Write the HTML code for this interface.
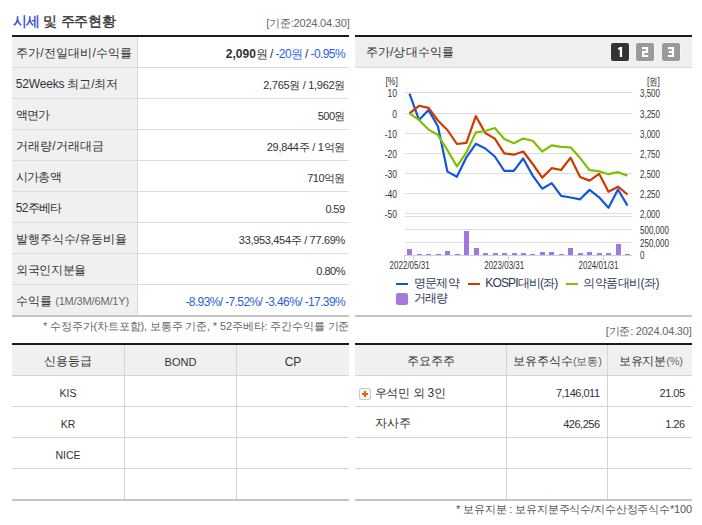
<!DOCTYPE html>
<html><head><meta charset="utf-8">
<style>
*{margin:0;padding:0;box-sizing:border-box}
html,body{width:702px;height:525px;overflow:hidden;background:#fff}
body{position:relative;font-family:"Liberation Sans",sans-serif;color:#333}
.t{position:absolute;white-space:nowrap;line-height:20px}
.r{position:absolute}
.chart{position:absolute;left:0;top:0}
.btn{position:absolute;top:43px;width:18px;height:18px;border-radius:2px;color:#fff;font-weight:bold;font-size:12px;line-height:18px;text-align:center}
.plus{position:absolute;width:12px;height:12px;border:1px solid #c8c8c8;border-radius:2px;background:#f6f6f6}
.plus:before{content:"";position:absolute;left:2px;top:4px;width:6px;height:2px;background:#f25c05}
.plus:after{content:"";position:absolute;left:4px;top:2px;width:2px;height:6px;background:#f25c05}
</style></head><body>
<div class="t" id="title" style="top:11.0px;font-size:14px;color:#333;letter-spacing:-0.3px;left:12.5px;-webkit-text-stroke:0.35px;"><span style="color:#3343d2">시세</span> 및 주주현황</div>
<div class="t" id="date1" style="top:13.0px;font-size:11px;color:#666;letter-spacing:-0.2px;right:352.5px;">[기준:2024.04.30]</div>
<div class="r" style="left:12px;top:35px;width:337px;height:2px;background:#1b1b1b"></div>
<div class="r" style="left:12px;top:37px;width:125px;height:278px;background:#f0f0f0"></div>
<div class="r" style="left:137px;top:37px;width:1px;height:278px;background:#dcdcdc"></div>
<div class="r" style="left:12px;top:67px;width:337px;height:1px;background:#dcdcdc"></div>
<div class="r" style="left:12px;top:98px;width:337px;height:1px;background:#dcdcdc"></div>
<div class="r" style="left:12px;top:129px;width:337px;height:1px;background:#dcdcdc"></div>
<div class="r" style="left:12px;top:160px;width:337px;height:1px;background:#dcdcdc"></div>
<div class="r" style="left:12px;top:191px;width:337px;height:1px;background:#dcdcdc"></div>
<div class="r" style="left:12px;top:222px;width:337px;height:1px;background:#dcdcdc"></div>
<div class="r" style="left:12px;top:253px;width:337px;height:1px;background:#dcdcdc"></div>
<div class="r" style="left:12px;top:284px;width:337px;height:1px;background:#dcdcdc"></div>
<div class="r" style="left:12px;top:315px;width:337px;height:2px;background:#c4c4c4"></div>
<div class="t" id="L0" style="top:42.9px;font-size:12px;color:#333;letter-spacing:0.2px;left:15.8px;">주가/전일대비/수익률</div>
<div class="t" id="V0" style="top:43.6px;font-size:12px;color:#333;letter-spacing:-0.6px;right:357.0px;"><b style="letter-spacing:0">2,090</b>원 / <span style="color:#1f5fe0">-20원</span> / <span style="color:#1f5fe0">-0.95%</span></div>
<div class="t" id="L1" style="top:73.8px;font-size:12px;color:#333;letter-spacing:-0.18px;left:15.8px;">52Weeks 최고/최저</div>
<div class="t" id="V1" style="top:74.6px;font-size:11px;color:#333;letter-spacing:-0.3px;right:357.0px;">2,765원 / 1,962원</div>
<div class="t" id="L2" style="top:104.8px;font-size:12px;color:#333;letter-spacing:-0.7px;left:15.8px;">액면가</div>
<div class="t" id="V2" style="top:105.6px;font-size:11px;color:#333;letter-spacing:-0.5px;right:357.0px;">500원</div>
<div class="t" id="L3" style="top:135.8px;font-size:12px;color:#333;letter-spacing:0.16px;left:15.8px;">거래량/거래대금</div>
<div class="t" id="V3" style="top:136.6px;font-size:11px;color:#333;letter-spacing:-0.28px;right:357.0px;">29,844주 / 1억원</div>
<div class="t" id="L4" style="top:166.8px;font-size:12px;color:#333;letter-spacing:-0.67px;left:15.8px;">시가총액</div>
<div class="t" id="V4" style="top:167.6px;font-size:11px;color:#333;letter-spacing:-0.5px;right:357.0px;">710억원</div>
<div class="t" id="L5" style="top:197.8px;font-size:12px;color:#333;letter-spacing:-0.67px;left:15.8px;">52주베타</div>
<div class="t" id="V5" style="top:198.6px;font-size:11px;color:#333;letter-spacing:-0.6px;right:357.6px;">0.59</div>
<div class="t" id="L6" style="top:228.8px;font-size:12px;color:#333;left:15.8px;">발행주식수/유동비율</div>
<div class="t" id="V6" style="top:229.6px;font-size:11px;color:#333;letter-spacing:-0.32px;right:357.0px;">33,953,454주 / 77.69%</div>
<div class="t" id="L7" style="top:259.9px;font-size:12px;color:#333;letter-spacing:-0.28px;left:15.8px;">외국인지분율</div>
<div class="t" id="V7" style="top:260.6px;font-size:11px;color:#333;letter-spacing:-0.5px;right:357.0px;">0.80%</div>
<div class="t" id="L8" style="top:290.9px;font-size:12px;color:#333;left:15.8px;">수익률 <span style="font-size:11px;color:#6a6a6a;letter-spacing:-0.15px">(1M/3M/6M/1Y)</span></div>
<div class="t" id="V8" style="top:291.6px;font-size:12px;color:#333;letter-spacing:-0.62px;right:357.0px;"><span style="color:#1f5fe0">-8.93%/ -7.52%/ -3.46%/ -17.39%</span></div>
<div class="t" id="note1" style="top:316.1px;font-size:11px;color:#666;letter-spacing:-0.14px;left:43.0px;">* 수정주가(차트포함), 보통주 기준, * 52주베타: 주간수익률 기준</div>
<div class="r" style="left:355px;top:35px;width:337px;height:2px;background:#1b1b1b"></div>
<div class="r" style="left:355px;top:37px;width:337px;height:30px;background:#efefef"></div>
<div class="r" style="left:355px;top:67px;width:337px;height:1px;background:#dcdcdc"></div>
<div class="t" id="ctitle" style="top:41.8px;font-size:12px;color:#333;letter-spacing:0.2px;left:365.5px;">주가/상대수익률</div>
<div class="r" style="left:355px;top:315px;width:337px;height:2px;background:#c4c4c4"></div>
<div class="t" id="date2" style="top:320.6px;font-size:11px;color:#666;letter-spacing:-0.22px;right:10.5px;">[기준: 2024.04.30]</div>
<svg class="chart" width="702" height="525" viewBox="0 0 702 525">
<rect x="405" y="92" width="227" height="1" fill="#dcdcdc"/><rect x="405" y="113" width="227" height="1" fill="#dcdcdc"/><rect x="405" y="133" width="227" height="1" fill="#dcdcdc"/><rect x="405" y="153" width="227" height="1" fill="#dcdcdc"/><rect x="405" y="173" width="227" height="1" fill="#dcdcdc"/><rect x="405" y="193" width="227" height="1" fill="#dcdcdc"/><rect x="405" y="213" width="227" height="1" fill="#dcdcdc"/><rect x="405" y="216" width="227" height="1" fill="#dcdcdc"/><rect x="405" y="229" width="227" height="1" fill="#dcdcdc"/><rect x="405" y="242" width="227" height="1" fill="#dcdcdc"/>
<rect x="407" y="249" width="5" height="6" fill="#a276dc"/><rect x="417" y="254" width="5" height="1" fill="#a276dc"/><rect x="426" y="254" width="5" height="1" fill="#a276dc"/><rect x="436" y="254" width="5" height="1" fill="#a276dc"/><rect x="445" y="251" width="5" height="4" fill="#a276dc"/><rect x="455" y="254" width="5" height="1" fill="#a276dc"/><rect x="464" y="231" width="5" height="24" fill="#a276dc"/><rect x="474" y="248" width="5" height="7" fill="#a276dc"/><rect x="483" y="253" width="5" height="2" fill="#a276dc"/><rect x="493" y="253" width="5" height="2" fill="#a276dc"/><rect x="502" y="253" width="5" height="2" fill="#a276dc"/><rect x="512" y="253" width="5" height="2" fill="#a276dc"/><rect x="521" y="253" width="5" height="2" fill="#a276dc"/><rect x="530" y="254" width="5" height="1" fill="#a276dc"/><rect x="540" y="252" width="5" height="3" fill="#a276dc"/><rect x="549" y="252" width="5" height="3" fill="#a276dc"/><rect x="559" y="254" width="5" height="1" fill="#a276dc"/><rect x="568" y="248" width="5" height="7" fill="#a276dc"/><rect x="578" y="253" width="5" height="2" fill="#a276dc"/><rect x="587" y="252" width="5" height="3" fill="#a276dc"/><rect x="597" y="253" width="5" height="2" fill="#a276dc"/><rect x="606" y="253" width="5" height="2" fill="#a276dc"/><rect x="616" y="244" width="5" height="11" fill="#a276dc"/><rect x="625" y="254" width="5" height="1" fill="#a276dc"/>
<rect x="404" y="255" width="228" height="1" fill="#c5d3e2"/>
<rect x="404" y="255" width="1" height="5" fill="#c5d3e2"/>
<rect x="413" y="255" width="1" height="5" fill="#c5d3e2"/>
<rect x="508" y="255" width="1" height="5" fill="#c5d3e2"/>
<rect x="603" y="255" width="1" height="5" fill="#c5d3e2"/>
<g fill="none" stroke-width="2.2" stroke-linejoin="round" stroke-linecap="butt">
<polyline points="409.5,93.6 419.0,119.9 428.5,110.1 437.9,126.2 447.4,171.6 456.9,176.8 466.4,157.3 475.8,143.8 485.3,148.5 494.8,156.5 504.3,170.8 513.8,170.8 523.2,158.5 532.7,175.6 542.2,188.7 551.7,183.1 561.1,195.9 570.6,197.5 580.1,199.3 589.6,189.9 599.1,197.3 608.5,207.8 618.0,189.5 627.5,205.6" stroke="#1258d6"/>
<polyline points="409.5,113.3 419.0,105.8 428.5,107.9 437.9,120.5 447.4,130.0 456.9,144.0 466.4,142.8 475.8,116.1 485.3,133.0 494.8,138.6 504.3,153.3 513.8,154.7 523.2,151.5 532.7,164.0 542.2,177.6 551.7,168.2 561.1,170.0 570.6,157.7 580.1,177.0 589.6,180.6 599.1,173.8 608.5,191.7 618.0,186.7 627.5,194.5" stroke="#d03800"/>
<polyline points="409.5,113.3 419.0,119.9 428.5,129.6 437.9,134.8 447.4,150.1 456.9,166.4 466.4,152.3 475.8,132.4 485.3,131.0 494.8,128.0 504.3,139.0 513.8,143.2 523.2,138.6 532.7,140.8 542.2,151.5 551.7,145.3 561.1,146.9 570.6,147.3 580.1,158.1 589.6,170.2 599.1,171.4 608.5,174.2 618.0,172.2 627.5,175.6" stroke="#80c000"/>
</g>
<g font-family="Liberation Sans, sans-serif" font-size="10" fill="#333"><text transform="translate(385.5,84.5) scale(0.85,1)" text-anchor="start">[%]</text><text transform="translate(397,96.5) scale(0.85,1)" text-anchor="end">10</text><text transform="translate(397,117.5) scale(0.85,1)" text-anchor="end">0</text><text transform="translate(397,137.5) scale(0.85,1)" text-anchor="end">-10</text><text transform="translate(397,157.5) scale(0.85,1)" text-anchor="end">-20</text><text transform="translate(397,177.5) scale(0.85,1)" text-anchor="end">-30</text><text transform="translate(397,197.5) scale(0.85,1)" text-anchor="end">-40</text><text transform="translate(397,217.5) scale(0.85,1)" text-anchor="end">-50</text><text transform="translate(647,84.5) scale(0.85,1)" text-anchor="start">[원]</text><text transform="translate(640,96.5) scale(0.8,1)" text-anchor="start">3,500</text><text transform="translate(640,117.5) scale(0.8,1)" text-anchor="start">3,250</text><text transform="translate(640,137.5) scale(0.8,1)" text-anchor="start">3,000</text><text transform="translate(640,157.5) scale(0.8,1)" text-anchor="start">2,750</text><text transform="translate(640,177.5) scale(0.8,1)" text-anchor="start">2,500</text><text transform="translate(640,197.5) scale(0.8,1)" text-anchor="start">2,250</text><text transform="translate(640,217.5) scale(0.8,1)" text-anchor="start">2,000</text><text transform="translate(640,233.5) scale(0.8,1)" text-anchor="start">500,000</text><text transform="translate(640,246.5) scale(0.8,1)" text-anchor="start">250,000</text><text transform="translate(640,258.5) scale(0.8,1)" text-anchor="start">0</text><text transform="translate(409.6,268.8) scale(0.8,1)" text-anchor="middle">2022/05/31</text><text transform="translate(504.2,268.8) scale(0.8,1)" text-anchor="middle">2023/03/31</text><text transform="translate(598.5,268.8) scale(0.8,1)" text-anchor="middle">2024/01/31</text></g>

<g>
<rect x="610.5" y="42.5" width="19" height="19" rx="2.5" fill="#fafafa"/>
<rect x="611" y="43" width="18" height="18" rx="2" fill="#333"/>
<rect x="635.5" y="42.5" width="19" height="19" rx="2.5" fill="#fafafa"/>
<rect x="636" y="43" width="18" height="18" rx="2" fill="#9a9a9a"/>
<rect x="661.5" y="42.5" width="19" height="19" rx="2.5" fill="#fafafa"/>
<rect x="662" y="43" width="18" height="18" rx="2" fill="#9a9a9a"/>
<g fill="#fff">
<path d="M619.8,47 h2.3 v10.1 h-2.3 v-7.6 h-1.9 v-1.2 z"/>
<path d="M642,47 h6.2 v6 h-4 v1.9 h4 v2.2 h-6.2 v-6 h4 v-1.9 h-4 z"/>
<path d="M668,47 h6.1 v10.1 h-6.1 v-2.2 h3.9 v-1.9 h-3.1 v-2 h3.1 v-1.8 h-3.9 z"/>
</g>
</g>
<rect x="396" y="283" width="12" height="2" fill="#1258d6"/>
<rect x="468" y="283" width="12" height="2" fill="#d03800"/>
<rect x="566" y="283" width="12" height="2" fill="#80c000"/>
<rect x="396" y="293" width="12" height="12" rx="2" fill="#a678dc"/>
</svg>
<div class="t" id="lg1" style="top:273.0px;font-size:12px;color:#2a3a55;letter-spacing:-0.6px;left:413.5px;">명문제약</div>
<div class="t" id="lg2" style="top:273.0px;font-size:12px;color:#2a3a55;letter-spacing:-0.85px;left:485.3px;">KOSPI대비(좌)</div>
<div class="t" id="lg3" style="top:273.0px;font-size:12px;color:#2a3a55;letter-spacing:-0.54px;left:583.3px;">의약품대비(좌)</div>
<div class="t" id="lg4" style="top:288.2px;font-size:12px;color:#2a3a55;letter-spacing:-0.6px;left:413.5px;">거래량</div>
<div class="r" style="left:12px;top:343px;width:337px;height:2px;background:#1b1b1b"></div>
<div class="r" style="left:12px;top:345px;width:337px;height:30px;background:#f0f0f0"></div>
<div class="r" style="left:12px;top:375px;width:337px;height:1px;background:#d4d4d4"></div>
<div class="r" style="left:12px;top:406px;width:337px;height:1px;background:#d4d4d4"></div>
<div class="r" style="left:12px;top:437px;width:337px;height:1px;background:#d4d4d4"></div>
<div class="r" style="left:12px;top:468px;width:337px;height:1px;background:#d4d4d4"></div>
<div class="r" style="left:12px;top:499px;width:337px;height:2px;background:#c4c4c4"></div>
<div class="r" style="left:124px;top:345px;width:1px;height:154px;background:#d4d4d4"></div>
<div class="r" style="left:236px;top:345px;width:1px;height:154px;background:#d4d4d4"></div>
<div class="t" id="h1" style="top:350.8px;font-size:12px;color:#333;left:12.0px;width:112.0px;text-align:center;">신용등급</div>
<div class="t" id="h2" style="top:351.6px;font-size:11px;color:#333;left:125.0px;width:111.0px;text-align:center;">BOND</div>
<div class="t" id="h3" style="top:351.6px;font-size:12px;color:#333;left:237.0px;width:112.0px;text-align:center;">CP</div>
<div class="t" id="c0" style="top:382.8px;font-size:10.5px;color:#333;left:12.0px;width:112.0px;text-align:center;">KIS</div>
<div class="t" id="c1" style="top:413.8px;font-size:10.5px;color:#333;left:12.0px;width:112.0px;text-align:center;">KR</div>
<div class="t" id="c2" style="top:444.8px;font-size:10.5px;color:#333;left:12.0px;width:112.0px;text-align:center;">NICE</div>
<div class="r" style="left:355px;top:343px;width:337px;height:2px;background:#1b1b1b"></div>
<div class="r" style="left:355px;top:345px;width:337px;height:30px;background:#f0f0f0"></div>
<div class="r" style="left:355px;top:375px;width:337px;height:1px;background:#d4d4d4"></div>
<div class="r" style="left:355px;top:406px;width:337px;height:1px;background:#d4d4d4"></div>
<div class="r" style="left:355px;top:437px;width:337px;height:1px;background:#d4d4d4"></div>
<div class="r" style="left:355px;top:468px;width:337px;height:1px;background:#d4d4d4"></div>
<div class="r" style="left:355px;top:499px;width:337px;height:2px;background:#c4c4c4"></div>
<div class="r" style="left:506px;top:345px;width:1px;height:154px;background:#d4d4d4"></div>
<div class="r" style="left:607px;top:345px;width:1px;height:154px;background:#d4d4d4"></div>
<div class="t" id="h4" style="top:350.9px;font-size:12px;color:#333;left:355.0px;width:151.0px;text-align:center;">주요주주</div>
<div class="t" id="h5" style="top:350.8px;font-size:12px;color:#333;letter-spacing:-0.1px;left:513.4px;">보유주식수<span style="font-size:11px;color:#666">(보통)</span></div>
<div class="t" id="h6" style="top:350.8px;font-size:12px;color:#333;letter-spacing:-0.15px;left:618.8px;">보유지분<span style="font-size:11px;color:#666">(%)</span></div>
<div class="plus" style="left:359px;top:388px"></div>
<div class="t" id="s1" style="top:382.5px;font-size:12px;color:#333;letter-spacing:-0.3px;left:374.6px;">우석민 외 3인</div>
<div class="t" id="s2" style="top:413.3px;font-size:12px;color:#333;left:374.5px;">자사주</div>
<div class="t" id="s3" style="top:383.4px;font-size:11px;color:#333;letter-spacing:-0.5px;right:102.5px;">7,146,011</div>
<div class="t" id="s4" style="top:414.3px;font-size:11px;color:#333;letter-spacing:-0.5px;right:102.5px;">426,256</div>
<div class="t" id="s5" style="top:383.4px;font-size:11px;color:#333;letter-spacing:-0.5px;right:17.4px;">21.05</div>
<div class="t" id="s6" style="top:414.3px;font-size:11px;color:#333;letter-spacing:-0.5px;right:17.4px;">1.26</div>
<div class="t" id="note2" style="top:499.2px;font-size:11px;color:#555;letter-spacing:-0.15px;right:10.0px;">* 보유지분 : 보유지분주식수/지수산정주식수*100</div>
</body></html>
